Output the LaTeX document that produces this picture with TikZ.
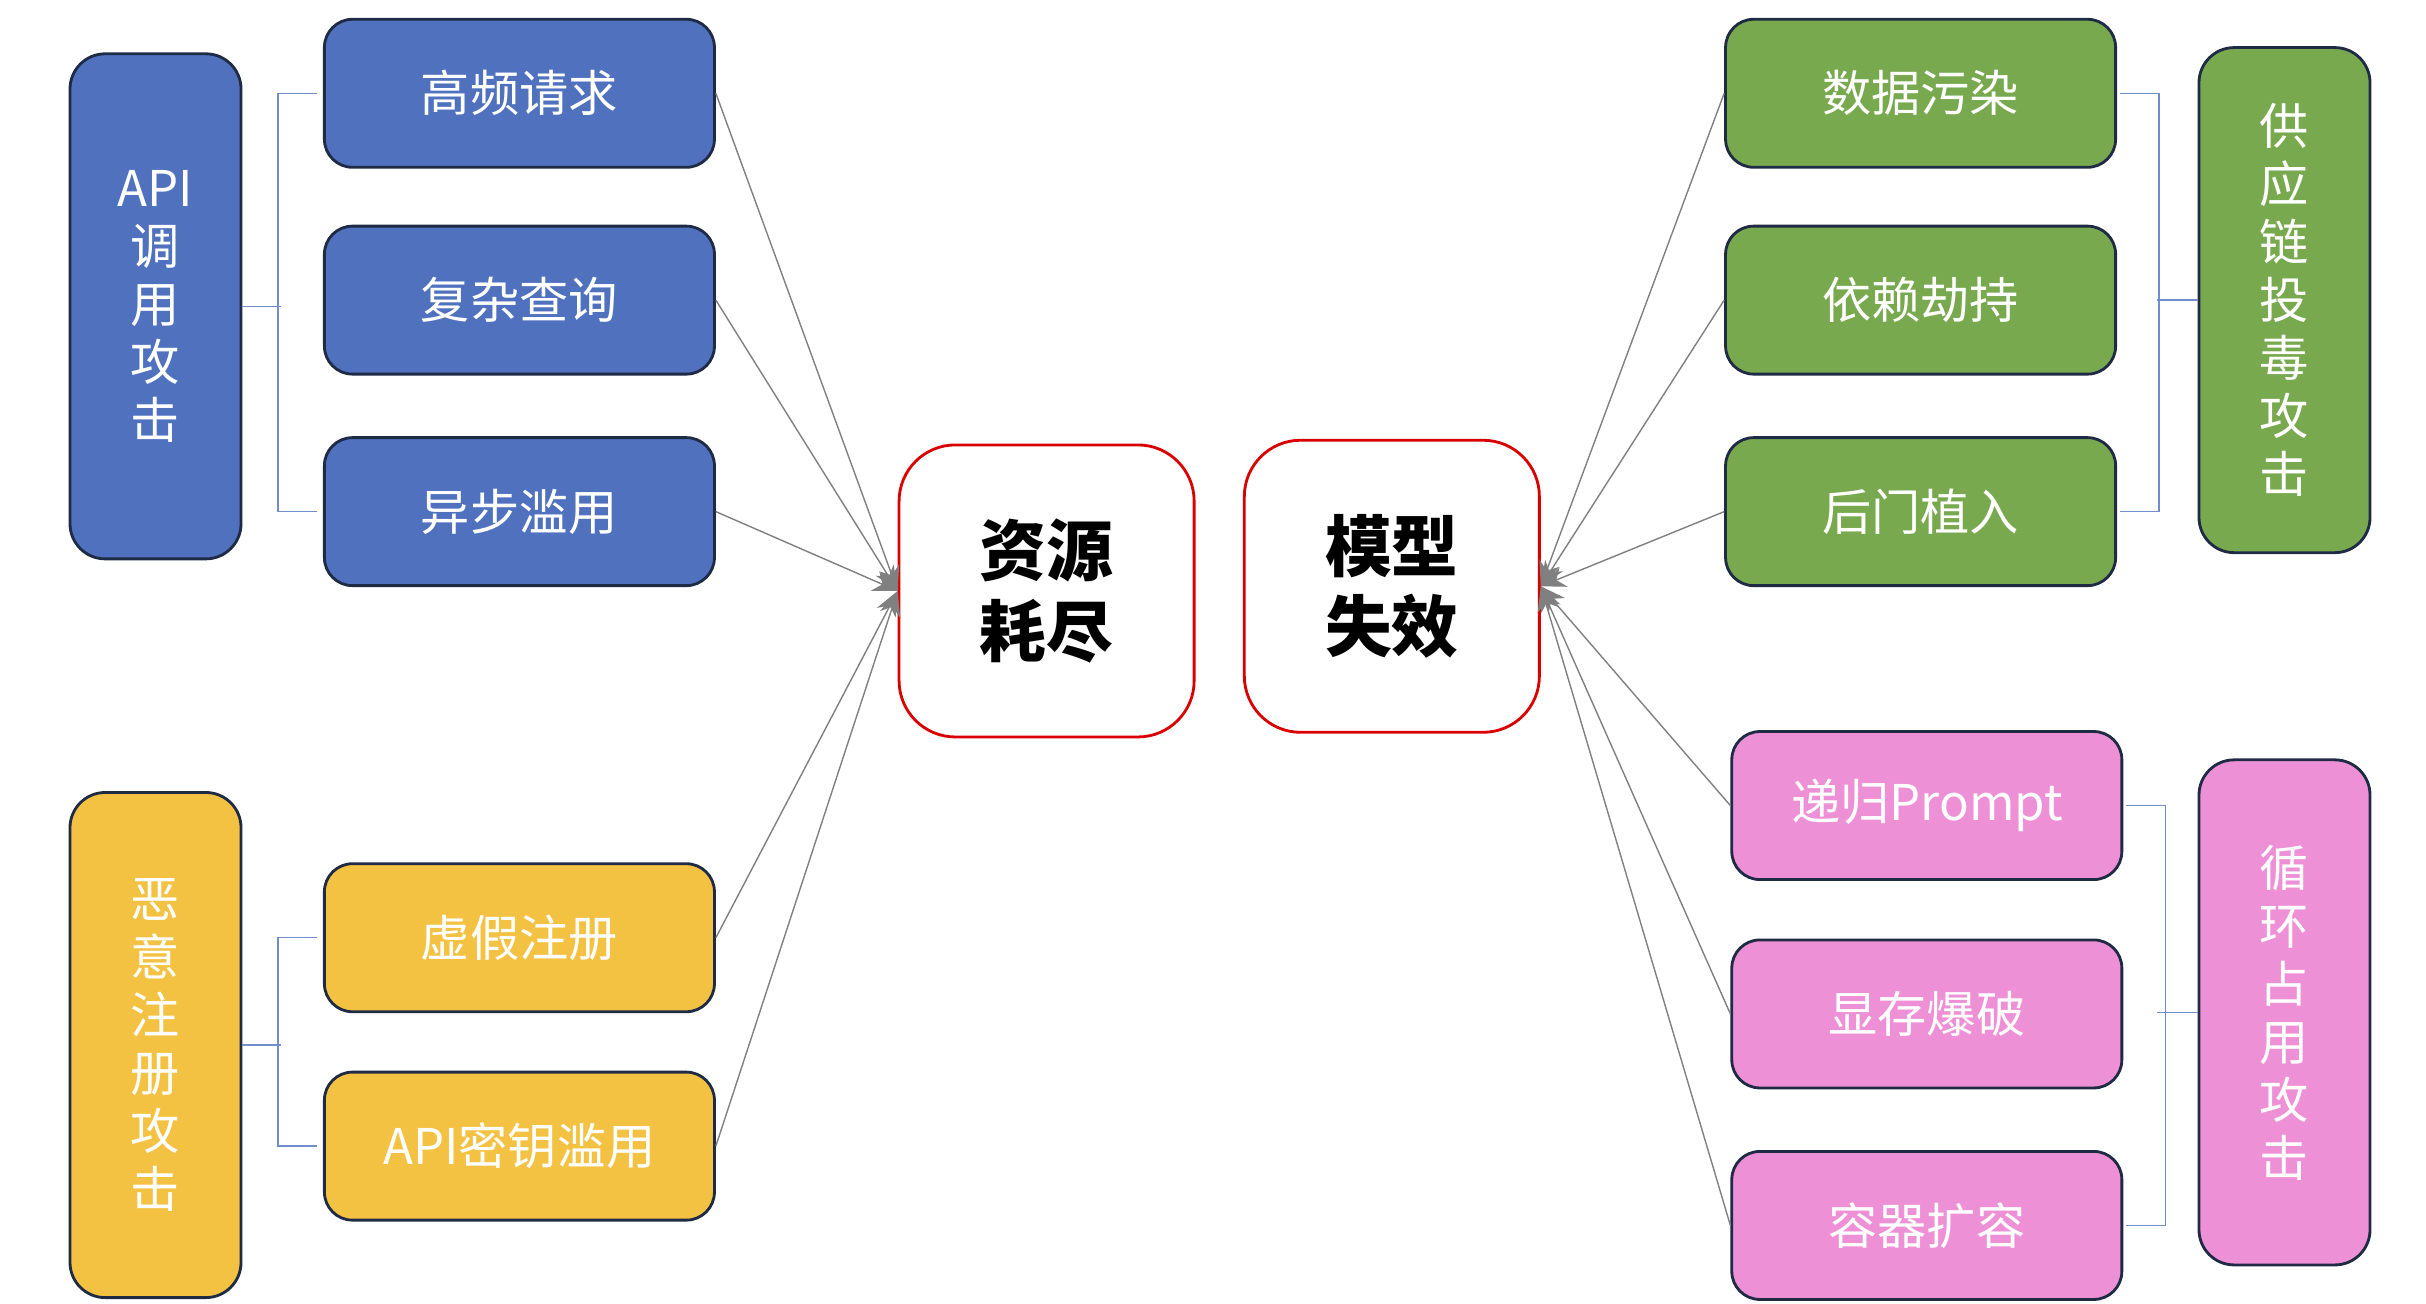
\documentclass[tikz,border=0pt]{standalone}
\usepackage{fontspec}
\setmainfont{Noto Sans CJK SC}
\usetikzlibrary{arrows.meta, calc}
\definecolor{apiblue}{HTML}{4F71BE}
\definecolor{regyellow}{HTML}{F4C242}
\definecolor{supgreen}{HTML}{78A94F}
\definecolor{looppink}{HTML}{EE90D6}
\definecolor{edgedark}{HTML}{1F2A44}
\tikzset{
  leaf/.style={rectangle, rounded corners=8pt, minimum width=3.9cm, minimum height=1.48cm, draw=edgedark, thick, text=white, font=\fontsize{14}{17}\selectfont},
  group/.style={rectangle, rounded corners=10pt, minimum width=1.71cm, minimum height=5.05cm, draw=edgedark, thick, text=white, align=center, font=\fontsize{14}{16.5}\selectfont},
  core/.style={rectangle, rounded corners=16pt, minimum width=2.95cm, minimum height=2.92cm, draw=red!85!black, thick, fill=white, align=center, font=\fontsize{19}{23}\selectfont\bfseries},
  arrow/.style={draw=gray, thin, -{Stealth[length=7pt,width=6pt]}},
  bracket/.style={draw=apiblue!80, thin}
}
\begin{document}
\begin{tikzpicture}[x=0.01555cm, y=-0.01555cm]
    \useasboundingbox (0,0) rectangle (1560,838);

    \node (api) [group, fill=apiblue] at (100,197) {API\\调\\用\\攻\\击};
    \node (hf) [leaf, fill=apiblue] at (334,60) {高频请求};
    \node (fz) [leaf, fill=apiblue] at (334,193) {复杂查询};
    \node (yb) [leaf, fill=apiblue] at (334,329) {异步滥用};

    \node (reg) [group, fill=regyellow] at (100,672) {恶\\意\\注\\册\\攻\\击};
    \node (xj) [leaf, fill=regyellow] at (334,603) {虚假注册};
    \node (key) [leaf, fill=regyellow] at (334,737) {API密钥滥用};

    \node (res) [core] at (673,380) {资源\\耗尽};
    \node (mod) [core] at (895,377) {模型\\失效};

    \node (sj) [leaf, fill=supgreen] at (1235,60) {数据污染};
    \node (yl) [leaf, fill=supgreen] at (1235,193) {依赖劫持};
    \node (hm) [leaf, fill=supgreen] at (1235,329) {后门植入};
    \node (sup) [group, fill=supgreen] at (1469,193) {供\\应\\链\\投\\毒\\攻\\击};

    \node (dg) [leaf, fill=looppink] at (1239,518) {递归Prompt};
    \node (xc) [leaf, fill=looppink] at (1239,652) {显存爆破};
    \node (rq) [leaf, fill=looppink] at (1239,788) {容器扩容};
    \node (loop) [group, fill=looppink] at (1469,651) {循\\环\\占\\用\\攻\\击};

    % brackets between groups and leaves
    \draw [bracket] ($(hf.west)+(-4,0)$) -- ++(-25,0) |- ($(yb.west)+(-4,0)$);
    \draw [bracket] (api.east) -- ++(25,0);
    \draw [bracket] ($(xj.west)+(-4,0)$) -- ++(-25,0) |- ($(key.west)+(-4,0)$);
    \draw [bracket] (reg.east) -- ++(25,0);
    \draw [bracket] ($(sj.east)+(2,0)$) -- ++(25,0) |- ($(hm.east)+(2,0)$);
    \draw [bracket] (sup.west) -- ++(-26,0);
    \draw [bracket] ($(dg.east)+(2,0)$) -- ++(25,0) |- ($(rq.east)+(2,0)$);
    \draw [bracket] (loop.west) -- ++(-26,0);

    \draw [arrow] (hf.east) -- (res.west);
    \draw [arrow] (fz.east) -- (res.west);
    \draw [arrow] (yb.east) -- (res.west);
    \draw [arrow] (xj.east) -- (res.west);
    \draw [arrow] (key.east) -- (res.west);

    \draw [arrow] (sj.west) -- (mod.east);
    \draw [arrow] (yl.west) -- (mod.east);
    \draw [arrow] (hm.west) -- (mod.east);
    \draw [arrow] (dg.west) -- (mod.east);
    \draw [arrow] (xc.west) -- (mod.east);
    \draw [arrow] (rq.west) -- (mod.east);
\end{tikzpicture}
\end{document}
